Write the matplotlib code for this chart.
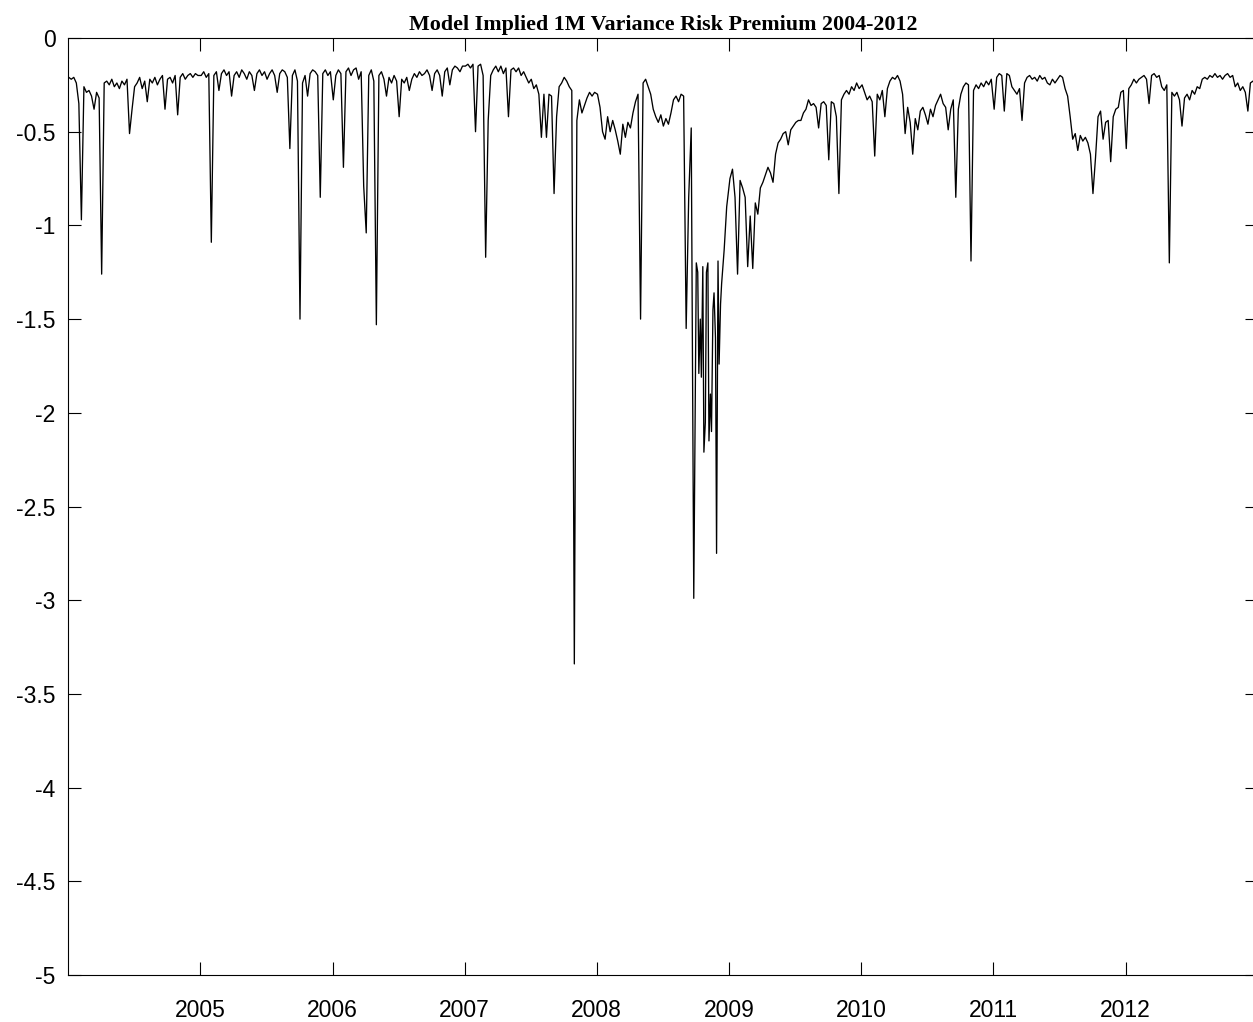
import matplotlib
matplotlib.use("Agg")
import matplotlib.pyplot as plt
import pandas as pd

# ---- data: weekly model-implied 1M variance risk premium ----
years = [2004, 2005, 2006, 2007, 2008, 2009, 2010, 2011, 2012]

vrp_2004 = [-0.21, -0.22, -0.21, -0.24, -0.35, -0.97, -0.26, -0.29, -0.28, -0.31,
            -0.38, -0.29, -0.32, -1.26, -0.24, -0.23, -0.25, -0.22, -0.26, -0.24,
            -0.27, -0.23, -0.25, -0.22, -0.51, -0.38, -0.26, -0.24, -0.21, -0.27,
            -0.23, -0.34, -0.22, -0.24, -0.21, -0.25, -0.22, -0.20, -0.38, -0.22,
            -0.21, -0.24, -0.20, -0.41, -0.21, -0.19, -0.22, -0.20, -0.19, -0.21,
            -0.19, -0.20]
vrp_2005 = [-0.20, -0.18, -0.21, -0.19, -1.09, -0.20, -0.18, -0.28, -0.19, -0.17,
            -0.20, -0.18, -0.31, -0.20, -0.18, -0.21, -0.17, -0.19, -0.22, -0.18,
            -0.20, -0.28, -0.19, -0.17, -0.20, -0.18, -0.22, -0.19, -0.17, -0.20,
            -0.29, -0.19, -0.17, -0.18, -0.21, -0.59, -0.20, -0.17, -0.23, -1.50,
            -0.24, -0.20, -0.31, -0.19, -0.17, -0.18, -0.20, -0.85, -0.19, -0.17,
            -0.20, -0.18]
vrp_2006 = [-0.33, -0.20, -0.17, -0.19, -0.69, -0.18, -0.16, -0.20, -0.17, -0.16,
            -0.22, -0.18, -0.79, -1.04, -0.20, -0.17, -0.23, -1.53, -0.20, -0.18,
            -0.22, -0.31, -0.21, -0.24, -0.20, -0.23, -0.42, -0.22, -0.24, -0.21,
            -0.28, -0.22, -0.19, -0.21, -0.18, -0.20, -0.19, -0.17, -0.20, -0.28,
            -0.19, -0.17, -0.20, -0.31, -0.18, -0.16, -0.25, -0.17, -0.15, -0.16,
            -0.18, -0.15]
vrp_2007 = [-0.15, -0.14, -0.16, -0.14, -0.50, -0.15, -0.14, -0.20, -1.17, -0.44,
            -0.20, -0.17, -0.15, -0.18, -0.15, -0.19, -0.16, -0.42, -0.17, -0.16,
            -0.18, -0.16, -0.20, -0.18, -0.21, -0.24, -0.22, -0.27, -0.25, -0.30,
            -0.53, -0.30, -0.53, -0.30, -0.31, -0.83, -0.42, -0.26, -0.24, -0.21,
            -0.23, -0.26, -0.28, -3.34, -0.44, -0.33, -0.40, -0.36, -0.32, -0.29,
            -0.31, -0.29]
vrp_2008 = [-0.30, -0.37, -0.50, -0.54, -0.42, -0.50, -0.44, -0.49, -0.55, -0.62,
            -0.46, -0.53, -0.45, -0.48, -0.40, -0.34, -0.30, -1.50, -0.24, -0.22,
            -0.26, -0.30, -0.38, -0.42, -0.45, -0.41, -0.47, -0.43, -0.46, -0.40,
            -0.33, -0.31, -0.34, -0.30, -0.31, -1.55, -0.85, -0.48, -2.99, -1.20,
            -1.79, -1.81, -2.21, -1.25, -2.15, -2.10, -1.36, -2.75, -1.74, -1.31,
            -1.13, -0.90]
vrp_2009 = [-0.75, -0.70, -0.85, -1.26, -0.76, -0.80, -0.85, -1.22, -0.95, -1.23,
            -0.88, -0.94, -0.80, -0.77, -0.73, -0.69, -0.72, -0.77, -0.62, -0.56,
            -0.54, -0.51, -0.50, -0.57, -0.49, -0.47, -0.45, -0.44, -0.44, -0.40,
            -0.38, -0.33, -0.36, -0.35, -0.37, -0.48, -0.35, -0.34, -0.36, -0.65,
            -0.34, -0.35, -0.42, -0.83, -0.33, -0.30, -0.28, -0.30, -0.26, -0.28,
            -0.24, -0.27]
vrp_2010 = [-0.25, -0.29, -0.33, -0.31, -0.34, -0.63, -0.30, -0.33, -0.28, -0.42,
            -0.27, -0.23, -0.21, -0.22, -0.20, -0.23, -0.30, -0.51, -0.37, -0.45,
            -0.62, -0.43, -0.49, -0.39, -0.37, -0.41, -0.46, -0.38, -0.42, -0.36,
            -0.33, -0.30, -0.35, -0.37, -0.49, -0.38, -0.33, -0.85, -0.38, -0.30,
            -0.26, -0.24, -0.25, -1.19, -0.28, -0.25, -0.27, -0.24, -0.26, -0.23,
            -0.25, -0.22]
vrp_2011 = [-0.38, -0.21, -0.19, -0.20, -0.39, -0.19, -0.20, -0.26, -0.28, -0.30,
            -0.27, -0.44, -0.24, -0.21, -0.20, -0.22, -0.21, -0.23, -0.20, -0.22,
            -0.21, -0.24, -0.25, -0.22, -0.24, -0.22, -0.20, -0.21, -0.27, -0.31,
            -0.42, -0.54, -0.51, -0.60, -0.52, -0.55, -0.53, -0.56, -0.62, -0.83,
            -0.64, -0.42, -0.39, -0.54, -0.45, -0.44, -0.66, -0.42, -0.38, -0.37,
            -0.29, -0.28]
vrp_2012 = [-0.59, -0.27, -0.25, -0.22, -0.24, -0.22, -0.21, -0.20, -0.22, -0.35,
            -0.20, -0.19, -0.21, -0.20, -0.26, -0.28, -0.25, -1.20, -0.29, -0.31,
            -0.29, -0.33, -0.47, -0.32, -0.30, -0.33, -0.28, -0.30, -0.26, -0.27,
            -0.22, -0.21, -0.22, -0.20, -0.21, -0.19, -0.21, -0.20, -0.22, -0.20,
            -0.19, -0.21, -0.20, -0.26, -0.24, -0.28, -0.26, -0.29, -0.39, -0.24,
            -0.23, -0.25]

# extra mid-week observations during the autumn 2008 crisis
crisis_dates = ['2008-10-06', '2008-10-13', '2008-10-20', '2008-10-27', '2008-11-03',
                '2008-11-10', '2008-11-17', '2008-11-24', '2008-12-01', '2008-12-08']
crisis_vals = [-1.25, -1.50, -1.22, -2.05, -1.20, -1.90, -1.45, -1.60, -1.19, -1.42]

yearly = [vrp_2004, vrp_2005, vrp_2006, vrp_2007, vrp_2008,
          vrp_2009, vrp_2010, vrp_2011, vrp_2012]

ytick_vals = [0, -0.5, -1, -1.5, -2, -2.5, -3, -3.5, -4, -4.5, -5]
ytick_labels = ['0', '-0.5', '-1', '-1.5', '-2', '-2.5', '-3', '-3.5', '-4', '-4.5', '-5']
xtick_years = [2005, 2006, 2007, 2008, 2009, 2010, 2011, 2012]

# ---- assemble series ----
parts = []
for y, vals in zip(years, yearly):
    d = pd.date_range(f'{y}-01-03', periods=len(vals), freq='7D')
    parts.append(pd.Series(vals, index=d))
parts.append(pd.Series(crisis_vals, index=pd.to_datetime(crisis_dates)))
series = pd.concat(parts).sort_index()

# ---- figure ----
plt.rcParams['axes.unicode_minus'] = False
fig = plt.figure(figsize=(12.53, 10.22), dpi=100)
L = 68 / 1253
B = 47 / 1022
W = (1258 - 68) / 1253
H = (975 - 38) / 1022
ax = fig.add_axes([L, B, W, H])

ax.plot(series.index, series.values, color='black', linewidth=0.95)

ax.set_xlim(pd.Timestamp('2004-01-01'), pd.Timestamp('2013-01-01'))
ax.set_ylim(-5, 0)

ax.set_xticks([pd.Timestamp(f'{y}-01-01') for y in xtick_years])
ax.set_xticklabels([str(y) for y in xtick_years])
ax.set_yticks(ytick_vals)
ax.set_yticklabels(ytick_labels)

for lab in ax.get_xticklabels() + ax.get_yticklabels():
    lab.set_fontfamily('Liberation Sans')
    lab.set_fontsize(16.5)

ax.tick_params(axis='both', direction='in', length=9.5, width=0.8,
               top=True, right=True, color='black')
ax.tick_params(axis='x', pad=17)
ax.tick_params(axis='y', pad=9)
for s in ax.spines.values():
    s.set_linewidth(0.8)

ax.set_title('Model Implied 1M Variance Risk Premium 2004-2012',
             fontfamily='Liberation Serif', fontweight='bold', fontsize=15.8,
             pad=6)

fig.savefig('out.png', dpi=100)
